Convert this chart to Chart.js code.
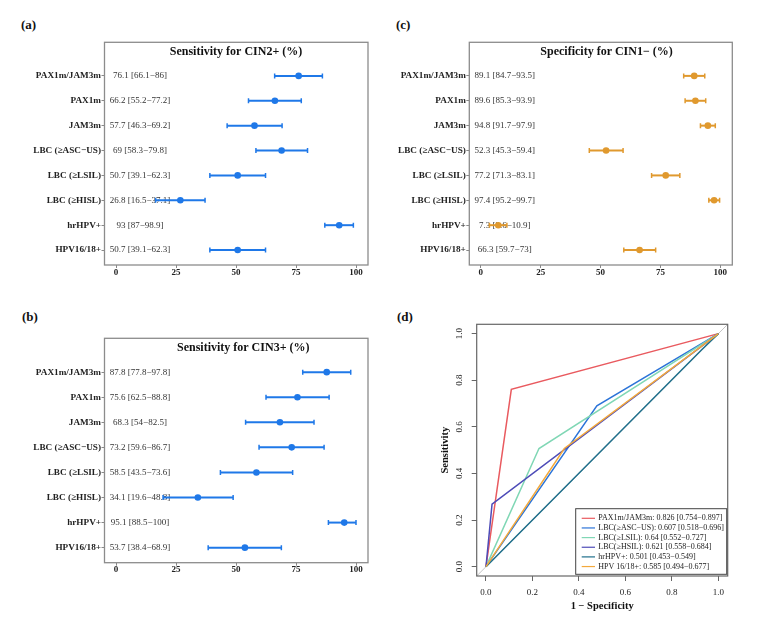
<!DOCTYPE html>
<html><head><meta charset="utf-8">
<script src="https://cdn.jsdelivr.net/npm/chart.js@4/dist/chart.umd.min.js"></script>
<style>
html,body{margin:0;padding:0;background:#fff;}
#wrap{position:relative;width:767px;height:623px;overflow:hidden;background:#fff;}
.pan{position:absolute;}
.lab{position:absolute;font:bold 13px "Liberation Serif","Times New Roman",serif;line-height:14px;color:#111;}
</style></head><body>
<div id="wrap">
  <div class="lab" style="left:21px;top:18px">(a)</div>
  <div class="lab" style="left:22px;top:310px">(b)</div>
  <div class="lab" style="left:396px;top:18px">(c)</div>
  <div class="lab" style="left:397px;top:310px">(d)</div>
  <div class="pan" style="left:0;top:0"><canvas id="ca" width="383" height="300"></canvas></div>
  <div class="pan" style="left:0;top:300px"><canvas id="cb" width="383" height="300"></canvas></div>
  <div class="pan" style="left:383px;top:0"><canvas id="cc" width="384" height="300"></canvas></div>
  <div class="pan" style="left:383px;top:300px"><canvas id="cd" width="384" height="323"></canvas></div>
</div>
<script>
// ---------------- data ----------------
const categories = ["PAX1m/JAM3m","PAX1m","JAM3m","LBC (\u2265ASC\u2212US)","LBC (\u2265LSIL)","LBC (\u2265HISL)","hrHPV+","HPV16/18+"];
const sensCIN2     = [76.1, 66.2, 57.7, 69,   50.7, 26.8, 93,   50.7];
const sensCIN2Low  = [66.1, 55.2, 46.3, 58.3, 39.1, 16.5, 87,   39.1];
const sensCIN2High = [86,   77.2, 69.2, 79.8, 62.3, 37.1, 98.9, 62.3];
const sensCIN3     = [87.8, 75.6, 68.3, 73.2, 58.5, 34.1, 95.1, 53.7];
const sensCIN3Low  = [77.8, 62.5, 54,   59.6, 43.5, 19.6, 88.5, 38.4];
const sensCIN3High = [97.8, 88.8, 82.5, 86.7, 73.6, 48.8, 100,  68.9];
const specCIN1     = [89.1, 89.6, 94.8, 52.3, 77.2, 97.4, 7.3,  66.3];
const specCIN1Low  = [84.7, 85.3, 91.7, 45.3, 71.3, 95.2, 3.6,  59.7];
const specCIN1High = [93.5, 93.9, 97.9, 59.4, 83.1, 99.7, 10.9, 73];
const forestTicks = [0, 25, 50, 75, 100];

const rocNames = ["PAX1m/JAM3m","LBC(\u2265ASC\u2212US)","LBC(\u2265LSIL)","LBC(\u2265HSIL)","hrHPV+","HPV 16/18+"];
const rocRows  = [0, 3, 4, 5, 6, 7];          // rows of the tables above used for each ROC curve
const aucValues = [0.826, 0.607, 0.64, 0.621, 0.501, 0.585];
const aucLow    = [0.754, 0.518, 0.552, 0.558, 0.453, 0.494];
const aucHigh   = [0.897, 0.696, 0.727, 0.684, 0.549, 0.677];
const rocTicks  = [0, 0.2, 0.4, 0.6, 0.8, 1];

// ---------------- styles ----------------
const SERIF = "'Liberation Serif','Times New Roman',serif";
const BLUE = '#1F78E8', ORANGE = '#E0992E';
const rocColors = ['#E95A5F', '#2C74D8', '#80D7B5', '#4E4CB8', '#1F6F8B', '#F3A93C'];
const MINUS = '\u2212';

const forestPlugin = {
  id: 'forest',
  beforeDatasetsDraw(chart, args, o) {
    const ctx = chart.ctx, xs = chart.scales.x, ys = chart.scales.y;
    ctx.save();
    ctx.font = '9px ' + SERIF;
    ctx.fillStyle = '#333';
    ctx.textAlign = 'center';
    ctx.textBaseline = 'middle';
    o.vals.forEach((v, i) => {
      ctx.fillText(v + ' [' + o.lows[i] + MINUS + o.highs[i] + ']', xs.getPixelForValue(o.textX), ys.getPixelForValue(i + 1));
    });
    ctx.strokeStyle = o.color;
    o.lows.forEach((lo, i) => {
      const y = ys.getPixelForValue(i + 1);
      const x1 = xs.getPixelForValue(lo), x2 = xs.getPixelForValue(o.highs[i]);
      ctx.lineWidth = 2;
      ctx.beginPath(); ctx.moveTo(x1, y); ctx.lineTo(x2, y); ctx.stroke();
      ctx.lineWidth = 1.5;
      ctx.beginPath();
      ctx.moveTo(x1, y - 2.5); ctx.lineTo(x1, y + 2.5);
      ctx.moveTo(x2, y - 2.5); ctx.lineTo(x2, y + 2.5);
      ctx.stroke();
    });
    ctx.restore();
  },
  afterDraw(chart, args, o) {
    const ctx = chart.ctx, a = chart.chartArea, xs = chart.scales.x;
    ctx.save();
    ctx.strokeStyle = '#8c8c8c';
    ctx.lineWidth = 1.3;
    ctx.strokeRect(a.left, a.top, a.right - a.left, a.bottom - a.top);
    ctx.font = 'bold 12px ' + SERIF;
    ctx.fillStyle = '#111';
    ctx.textAlign = 'center';
    ctx.textBaseline = 'middle';
    ctx.fillText(o.title, xs.getPixelForValue(o.titleX), a.top + 10);
    ctx.restore();
  }
};

function forest(id, title, titleX, vals, lows, highs, color, lay) {
  return new Chart(document.getElementById(id), {
    type: 'scatter',
    data: { datasets: [{
      data: vals.map((v, i) => ({ x: v, y: i + 1 })),
      backgroundColor: color, borderColor: color, pointRadius: 3.3, pointHoverRadius: 3.3, borderWidth: 0
    }]},
    options: {
      responsive: false, animation: false, events: [],
      layout: { padding: { top: lay.top, right: lay.right, left: 0, bottom: 0 } },
      plugins: {
        legend: { display: false }, tooltip: { enabled: false },
        forest: { title, titleX, vals, lows, highs, color, textX: 10 }
      },
      scales: {
        x: {
          type: 'linear', min: -4.8, max: 105,
          afterBuildTicks: s => { s.ticks = forestTicks.map(v => ({ value: v })); },
          afterFit: s => { s.height = lay.xh; },
          grid: { drawOnChartArea: false, tickColor: '#888', tickLength: 3 },
          border: { display: false },
          ticks: { font: { family: SERIF, weight: 'bold', size: 9 }, color: '#222', padding: -1, maxRotation: 0,
                   callback: v => String(v) }
        },
        y: {
          type: 'linear', reverse: true, min: -0.35, max: 8.6,
          afterBuildTicks: s => { s.ticks = categories.map((c, i) => ({ value: i + 1 })); },
          afterFit: s => { s.width = lay.yw; },
          grid: { drawOnChartArea: false, tickColor: '#888', tickLength: 3 },
          border: { display: false },
          ticks: { font: { family: SERIF, weight: 'bold', size: 9.2 }, color: '#222', padding: 0.5,
                   callback: v => categories[v - 1] }
        }
      }
    },
    plugins: [forestPlugin]
  });
}

forest('ca', 'Sensitivity for CIN2+ (%)', 50, sensCIN2, sensCIN2Low, sensCIN2High, BLUE,
       { top: 42.3, right: 15, xh: 35, yw: 104.5 });
forest('cb', 'Sensitivity for CIN3+ (%)', 53, sensCIN3, sensCIN3Low, sensCIN3High, BLUE,
       { top: 38.3, right: 15, xh: 37.3, yw: 104.5 });
forest('cc', 'Specificity for CIN1' + MINUS + ' (%)', 52.5, specCIN1, specCIN1Low, specCIN1High, ORANGE,
       { top: 42.3, right: 34.7, xh: 35, yw: 86.3 });

// ---------------- ROC ----------------
const rocPlugin = {
  id: 'roc',
  beforeDatasetsDraw(chart) {
    const ctx = chart.ctx, a = chart.chartArea, xs = chart.scales.x, ys = chart.scales.y;
    ctx.save();
    ctx.beginPath(); ctx.rect(a.left, a.top, a.right - a.left, a.bottom - a.top); ctx.clip();
    ctx.strokeStyle = '#c4c4c4'; ctx.lineWidth = 1;
    ctx.beginPath();
    ctx.moveTo(xs.getPixelForValue(xs.min), ys.getPixelForValue(xs.min));
    ctx.lineTo(xs.getPixelForValue(xs.max), ys.getPixelForValue(xs.max));
    ctx.stroke();
    ctx.restore();
  },
  afterDraw(chart) {
    const ctx = chart.ctx, a = chart.chartArea, ys = chart.scales.y;
    ctx.save();
    ctx.strokeStyle = '#666'; ctx.lineWidth = 1.2;
    ctx.strokeRect(a.left, a.top, a.right - a.left, a.bottom - a.top);
    ctx.font = '9px ' + SERIF; ctx.fillStyle = '#222';
    ctx.textAlign = 'center'; ctx.textBaseline = 'middle';
    ys.ticks.forEach(t => {
      ctx.save();
      ctx.translate(a.left - 16.7, ys.getPixelForValue(t.value));
      ctx.rotate(-Math.PI / 2);
      ctx.fillText(t.value.toFixed(1), 0, 0);
      ctx.restore();
    });
    const bw = 151, bh = 65.6;
    const bx = a.right - 1 - bw, by = a.bottom - 1.7 - bh;
    ctx.fillStyle = '#fff';
    ctx.fillRect(bx, by, bw, bh);
    ctx.strokeStyle = '#444'; ctx.lineWidth = 1;
    ctx.strokeRect(bx, by, bw, bh);
    ctx.font = '8px ' + SERIF;
    ctx.textAlign = 'left';
    chart.data.datasets.forEach((d, k) => {
      const y = by + 9.6 + k * 9.65;
      ctx.strokeStyle = d.borderColor; ctx.lineWidth = 1.2;
      ctx.beginPath(); ctx.moveTo(bx + 6, y); ctx.lineTo(bx + 19.3, y); ctx.stroke();
      ctx.fillStyle = '#222';
      ctx.fillText(d.label, bx + 22.6, y);
    });
    ctx.restore();
  }
};

new Chart(document.getElementById('cd'), {
  type: 'scatter',
  data: {
    datasets: rocNames.map((n, k) => {
      const r = rocRows[k];
      return {
        label: n + ': ' + aucValues[k] + ' [' + aucLow[k] + MINUS + aucHigh[k] + ']',
        data: [{ x: 0, y: 0 }, { x: 1 - specCIN1[r] / 100, y: sensCIN2[r] / 100 }, { x: 1, y: 1 }],
        borderColor: rocColors[k], backgroundColor: rocColors[k],
        borderWidth: 1.5, pointRadius: 0, showLine: true, fill: false, tension: 0,
        order: rocNames.length - k
      };
    })
  },
  options: {
    responsive: false, animation: false, events: [],
    layout: { padding: { top: 24.3, right: 39.3, left: 0, bottom: 0 } },
    plugins: { legend: { display: false }, tooltip: { enabled: false } },
    scales: {
      x: {
        type: 'linear', min: -0.04, max: 1.04,
        afterBuildTicks: s => { s.ticks = rocTicks.map(v => ({ value: v })); },
        afterFit: s => { s.height = 47; },
        grid: { drawOnChartArea: false, tickColor: '#666', tickLength: 5 },
        border: { display: false },
        ticks: { font: { family: SERIF, size: 9 }, color: '#222', padding: 6.3, maxRotation: 0,
                 callback: v => v.toFixed(1) },
        title: { display: true, text: '1 ' + MINUS + ' Specificity', color: '#111',
                 font: { family: SERIF, weight: 'bold', size: 10.5 }, padding: { top: 0, bottom: 10.7 } }
      },
      y: {
        type: 'linear', min: -0.04, max: 1.04,
        afterBuildTicks: s => { s.ticks = rocTicks.map(v => ({ value: v })); },
        afterFit: s => { s.width = 93.7; },
        grid: { drawOnChartArea: false, tickColor: '#666', tickLength: 5 },
        border: { display: false },
        ticks: { display: false },
        title: { display: true, text: 'Sensitivity', color: '#111',
                 font: { family: SERIF, weight: 'bold', size: 10.5 }, padding: { top: 55.7, bottom: 0 } }
      }
    }
  },
  plugins: [rocPlugin]
});
</script>
</body></html>
